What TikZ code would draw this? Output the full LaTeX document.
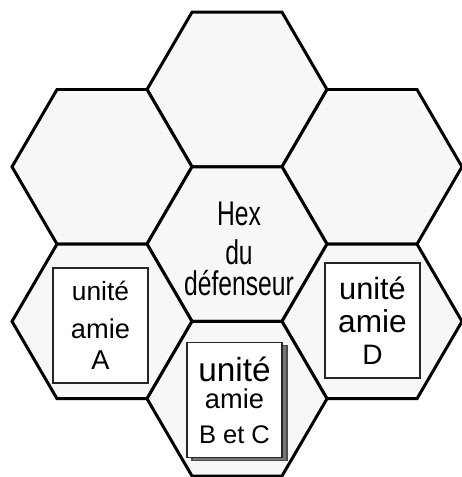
\documentclass[tikz,border=0pt]{standalone}
\usepackage{fontspec}
\setmainfont{Liberation Sans}
\newfontfamily\narrowsf[FakeStretch=0.72]{Liberation Sans}
\definecolor{hexbg}{HTML}{F7F7F7}
\definecolor{shadowgray}{HTML}{777777}
\def\hr{90}
\def\hv{77.3}
\newcommand{\hexcell}[2]{%
  \filldraw[hexcell] ({#1-\hr},{#2}) -- ({#1-\hr/2},{#2-\hv}) -- ({#1+\hr/2},{#2-\hv})
     -- ({#1+\hr},{#2}) -- ({#1+\hr/2},{#2+\hv}) -- ({#1-\hr/2},{#2+\hv}) -- cycle;
}
\newcommand{\Sz}[2]{{\fontsize{#1}{#1}\selectfont #2}}

\begin{document}
\begin{tikzpicture}[x=0.02cm,y=-0.02cm,
  hexcell/.style={fill=hexbg,draw=black,line width=1.7pt,line join=miter},
  unitbox/.style={draw=black!85,fill=white,line width=0.8pt,inner sep=0pt,
    minimum width=1.9cm,minimum height=2.3cm,align=center,
    font=\fontsize{10}{18}\selectfont},
  shadowbox/.style={unitbox,fill=shadowgray,draw=black!70}]

\useasboundingbox (0,0) rectangle (462,477);

% --- hex grid ----------------------------------------------------------
\foreach \x/\y in {237/89.5,102/166.8,372/166.8,237/244.1,102/321.4,372/321.4,237/398.7}{
  \hexcell{\x}{\y}
}
\coordinate (hdef) at (237,244.1);

% --- defending hex label ------------------------------------------------
\node[align=center,font=\narrowsf\fontsize{19.5}{20}\selectfont] (deflabel) at (239,249)
  {Hex\\[2.5pt]du\\[-2.4pt]défenseur};

% --- friendly units -----------------------------------------------------
\node[unitbox] (unitA) at (100.5,325.5)
  {\Sz{15}{unité}\\[3.5pt]\Sz{15.5}{amie}\\[0pt]\Sz{15.5}{A}};
\node[unitbox] (unitD) at (372.5,320.5)
  {\Sz{17.5}{unité}\\[0.7pt]\Sz{18}{amie}\\[0pt]\Sz{16}{D}};
\node[shadowbox] (unitBCback) at (239.5,403) {};
\node[unitbox] (unitBC) at (234.5,400)
  {\Sz{19}{unité}\\[-2.2pt]\Sz{15.5}{amie}\\[1.5pt]\Sz{14.5}{B et C}};

\end{tikzpicture}
\end{document}
